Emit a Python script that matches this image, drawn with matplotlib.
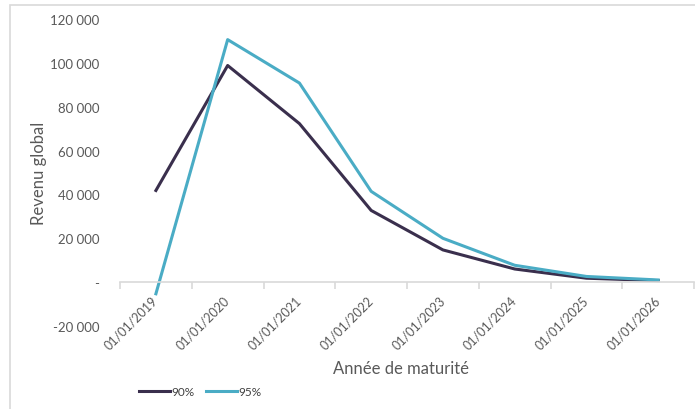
import matplotlib.pyplot as plt
from matplotlib.patches import Rectangle
from matplotlib.ticker import FuncFormatter, FixedLocator

plt.rcParams['font.family'] = ['Lato', 'DejaVu Sans']

# Revenu global par année de maturité
dates = ["01/01/2019", "01/01/2020", "01/01/2021", "01/01/2022",
         "01/01/2023", "01/01/2024", "01/01/2025", "01/01/2026"]
rev_90 = [41800, 98800, 72300, 32700, 14700, 6000, 1800, 700]
rev_95 = [-5300, 110600, 90800, 41400, 20000, 7700, 2600, 1000]

col_90 = "#3a2f4d"
col_95 = "#4aacc5"
grey = "#595959"

fig = plt.figure(figsize=(6.95, 4.10), dpi=100)
ax = fig.add_axes([0.1727, 0.2024, 0.826, 0.7488])

x = list(range(len(dates)))
ax.plot(x, rev_90, color=col_90, lw=2.2, label="90%", solid_joinstyle="round")
ax.plot(x, rev_95, color=col_95, lw=2.2, label="95%", solid_joinstyle="round")

ax.set_xlim(-0.5, len(dates) - 0.5)
ax.set_ylim(-20000, 120000)
ax.set_yticks(range(-20000, 120001, 20000))

def fmt(v, pos):
    if v == 0:
        return "-"
    return f"{int(v):,}".replace(",", " ")

ax.yaxis.set_major_formatter(FuncFormatter(fmt))
ax.tick_params(axis="y", length=0, labelsize=9.5, labelcolor=grey, pad=15)

# horizontal axis sits on zero, tick marks between categories
for s in ["top", "right", "left"]:
    ax.spines[s].set_visible(False)
ax.spines["bottom"].set_position(("data", 0))
ax.spines["bottom"].set_color("#d9d9d9")
ax.spines["bottom"].set_linewidth(1.2)
ax.set_xticks(x)
ax.set_xticklabels(dates, rotation=45, ha="right", va="center",
                   rotation_mode="anchor", fontsize=9, color=grey)
ax.xaxis.set_minor_locator(FixedLocator([i - 0.5 for i in range(len(dates) + 1)]))
ax.tick_params(axis="x", which="major", length=0, pad=11)
ax.tick_params(axis="x", which="minor", length=5, color="#d9d9d9", width=1.2)

ax.set_ylabel("Revenu global", fontsize=12, color=grey, labelpad=2)
fig.text(0.577, 0.1, "Année de maturité", fontsize=12, color=grey,
         ha="center", va="center")

fig.legend(loc="center left", bbox_to_anchor=(0.185, 0.042), ncol=2,
           frameon=False, fontsize=8.5, handlelength=2.6, handletextpad=0.1,
           columnspacing=1.0, labelcolor="#404040")

fig.patches.append(Rectangle((10 / 695, -0.05), 1.0, 1 - 6 / 410 + 0.05,
                             transform=fig.transFigure, fill=False,
                             edgecolor="#d9d9d9", lw=1.2))

fig.savefig("out.png", dpi=100)
